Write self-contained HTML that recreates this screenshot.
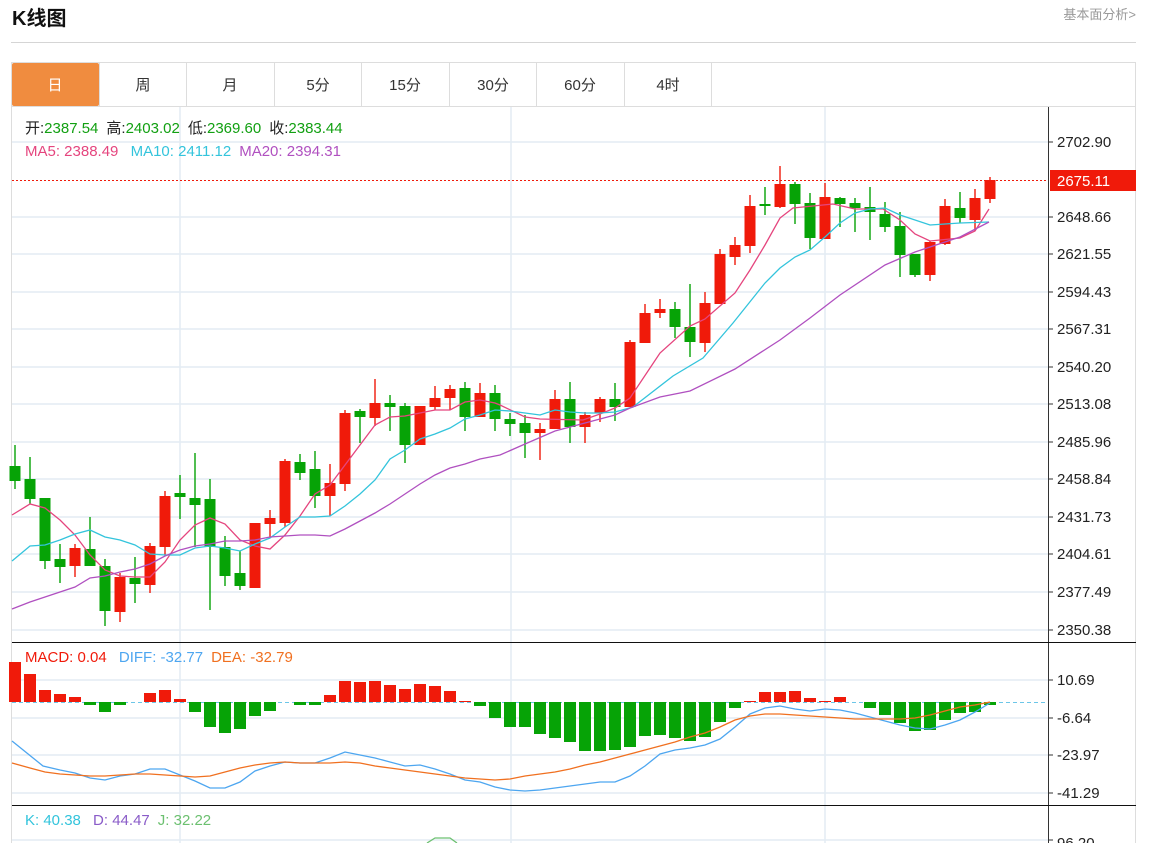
<!DOCTYPE html>
<html><head><meta charset="utf-8">
<style>
body{margin:0;background:#fff;width:1150px;height:843px;overflow:hidden;font-family:"Liberation Sans","Noto Sans CJK SC",sans-serif;}
svg{position:absolute;left:0;top:0}
svg text{font-family:"Liberation Sans","Noto Sans CJK SC",sans-serif;}
</style></head><body>
<svg id="s" width="1150" height="843" xmlns="http://www.w3.org/2000/svg">
<text x="12" y="25" font-size="20" font-weight="bold" fill="#111">K线图</text>
<text x="1136" y="19" font-size="13" fill="#999" text-anchor="end">基本面分析&gt;</text>
<line x1="11" y1="42.5" x2="1136" y2="42.5" stroke="#d5d5d5"/>
<rect x="11.5" y="62.5" width="1124" height="790" fill="none" stroke="#ddd"/>
<line x1="11" y1="106.5" x2="1136" y2="106.5" stroke="#ddd"/>
<rect x="12" y="63" width="87" height="43" fill="#f08c3f" rx="2"/>
<g font-size="15" fill="#333" text-anchor="middle">
<text x="55" y="90" fill="#fff">日</text>
<text x="143" y="90">周</text><text x="230" y="90">月</text><text x="318" y="90">5分</text>
<text x="405" y="90">15分</text><text x="493" y="90">30分</text><text x="580" y="90">60分</text><text x="668" y="90">4时</text>
</g>
<g stroke="#ddd"><line x1="99.5" y1="63" x2="99.5" y2="106"/><line x1="186.5" y1="63" x2="186.5" y2="106"/><line x1="274.5" y1="63" x2="274.5" y2="106"/><line x1="361.5" y1="63" x2="361.5" y2="106"/><line x1="449.5" y1="63" x2="449.5" y2="106"/><line x1="536.5" y1="63" x2="536.5" y2="106"/><line x1="624.5" y1="63" x2="624.5" y2="106"/><line x1="711.5" y1="63" x2="711.5" y2="106"/></g>
<g id="grid" stroke="#e3ecf3" stroke-width="1.5"></g>
<g font-size="15" fill="#222" id="ylab">
<text x="1057" y="147">2702.90</text><text x="1057" y="222">2648.66</text><text x="1057" y="259">2621.55</text><text x="1057" y="297">2594.43</text><text x="1057" y="334">2567.31</text><text x="1057" y="372">2540.20</text><text x="1057" y="409">2513.08</text><text x="1057" y="447">2485.96</text><text x="1057" y="484">2458.84</text><text x="1057" y="522">2431.73</text><text x="1057" y="559">2404.61</text><text x="1057" y="597">2377.49</text><text x="1057" y="635">2350.38</text>
<text x="1057" y="685">10.69</text><text x="1057" y="723">-6.64</text><text x="1057" y="760">-23.97</text><text x="1057" y="798">-41.29</text><text x="1057" y="848">96.20</text>
</g>
<line x1="12" y1="180.5" x2="1048" y2="180.5" stroke="#f01a0a" stroke-dasharray="2,2"/>
<rect x="1050" y="170" width="86" height="21" fill="#f01a0a"/>
<text x="1057" y="186" font-size="15" fill="#fff">2675.11</text>
<line x1="12" y1="702.5" x2="1048" y2="702.5" stroke="#6cc6e8" stroke-dasharray="4,3"/>
<g id="macd"></g>
<g id="cand"></g>
<g id="lines" fill="none" stroke-width="1.3"></g>
<line x1="1048.5" y1="107" x2="1048.5" y2="843" stroke="#333"/>
<line x1="12" y1="642.5" x2="1136" y2="642.5" stroke="#111"/>
<line x1="12" y1="805.5" x2="1136" y2="805.5" stroke="#111"/>
<g font-size="15">
<text x="25" y="133" fill="#222">开:<tspan fill="#12a012">2387.54</tspan><tspan dx="8">高:</tspan><tspan fill="#12a012">2403.02</tspan><tspan dx="8">低:</tspan><tspan fill="#12a012">2369.60</tspan><tspan dx="8">收:</tspan><tspan fill="#12a012">2383.44</tspan></text>
<text x="25" y="156" fill="#e5457e">MA5: 2388.49 <tspan fill="#33c4dc" dx="8">MA10: 2411.12</tspan><tspan fill="#b050c0" dx="8">MA20: 2394.31</tspan></text>
<text x="25" y="662" fill="#f01a0a">MACD: 0.04 <tspan fill="#4da6f0" dx="8">DIFF: -32.77</tspan><tspan fill="#f07020" dx="8">DEA: -32.79</tspan></text>
<text x="25" y="825" fill="#33c4dc">K: 40.38 <tspan fill="#8a5cc8" dx="8">D: 44.47</tspan><tspan fill="#6cc070" dx="8">J: 32.22</tspan></text>
</g>
</svg>
<script>
var NS="http://www.w3.org/2000/svg";
function el(p,t,a){var e=document.createElementNS(NS,t);for(var k in a)e.setAttribute(k,a[k]);document.getElementById(p).appendChild(e);return e;}
[142,217,254,292,329,367,404,442,479,517,554,592,630,680,718,755,793,840].forEach(function(y){el("grid","line",{x1:12,y1:y,x2:1048,y2:y});el("grid","line",{x1:1048,y1:y,x2:1053,y2:y,stroke:"#333","stroke-width":1});});
[180,511,825].forEach(function(x){el("grid","line",{x1:x,y1:107,x2:x,y2:843});});
var C=[[466,481,445,489,'g'],[479,499,457,504,'g'],[498,561,498,569,'g'],[559,567,544,583,'g'],[548,566,544,577,'r'],[549,566,517,566,'g'],[566,611,559,626,'g'],[577,612,573,622,'r'],[578,584,557,603,'g'],[546,585,543,593,'r'],[496,547,491,555,'r'],[493,497,475,519,'g'],[498,505,453,547,'g'],[499,547,479,610,'g'],[547,576,536,586,'g'],[573,586,551,590,'g'],[523,588,523,588,'r'],[518,524,510,537,'r'],[461,523,459,527,'r'],[462,473,454,480,'g'],[469,496,451,508,'g'],[483,496,464,516,'r'],[413,484,410,491,'r'],[411,417,409,443,'g'],[403,418,379,426,'r'],[403,407,395,431,'g'],[406,445,403,463,'g'],[406,445,406,445,'r'],[398,407,386,410,'r'],[389,398,385,410,'r'],[388,417,382,431,'g'],[393,417,383,417,'r'],[393,419,385,431,'g'],[419,424,413,436,'g'],
[423,433,415,458,'g'],[429,433,423,460,'r'],[399,429,390,429,'r'],[399,427,382,443,'g'],[415,427,412,443,'r'],[399,413,397,422,'r'],[399,407,383,421,'g'],[342,407,340,407,'r'],[313,343,304,343,'r'],[309,313,299,318,'r'],[309,327,302,338,'g'],[327,342,284,357,'g'],[303,343,292,352,'r'],[254,304,249,304,'r'],[245,257,237,265,'r'],[206,246,195,253,'r'],[204,206,187,215,'g'],[184,207,166,208,'r'],[184,204,182,224,'g'],[203,238,193,249,'g'],[197,239,183,239,'r'],[198,204,197,227,'g'],[203,208,198,232,'g'],[207,212,187,240,'g'],[214,227,202,232,'g'],[226,255,212,277,'g'],[254,275,254,277,'g'],[242,275,241,281,'r'],[206,244,199,245,'r'],[208,218,192,223,'g'],[198,220,189,231,'r'],[180,199,177,203,'r']];
C.forEach(function(c,i){var x=15+i*15,col=c[4]=='r'?'#f01a0a':'#06a306';
el("cand","line",{x1:x,y1:c[2],x2:x,y2:c[3],stroke:col,"stroke-width":1.4});
el("cand","rect",{x:x-5.5,y:c[0],width:11,height:Math.max(2,c[1]-c[0]),fill:col});});
var M=[662,674,690,694,697,705,712,705,702,693,690,699,712,727,733,729,716,711,702,705,705,695,681,682,681,685,689,684,686,691,701,706,718,727,727,734,738,742,751,751,750,747,736,735,738,741,737,722,708,701,692,692,691,698,701,697,702,708,715,723,731,730,720,713,712,705];
M.forEach(function(v,i){var x=15+i*15,col=v<702?'#f01a0a':'#06a306';var y=Math.min(v,702),h=Math.abs(v-702);if(h<1)return;el("macd","rect",{x:x-6,y:y,width:12,height:h,fill:col});});
function pl(pts,col){el("lines","polyline",{points:pts,stroke:col});}
pl("12,515 30,504 45,508 60,520 75,535 90,555 105,570 120,576 135,577 150,577 165,562 180,540 195,525 210,518 225,524 240,540 255,546 270,549 285,535 300,516 315,494 330,485 345,465 360,445 375,425 390,417 405,416 420,413 435,410 450,410 465,402 480,400 495,403 500,405 525,417 540,419 583,420 600,414 615,408 630,398 660,353 690,326 705,319 735,293 750,270 765,245 780,218 793,208 833,204 855,209 883,209 900,220 915,234 930,241 960,238 975,231 989,209","#e5457e");
pl("12,561 30,546 45,545 60,540 75,534 90,530 105,537 120,540 135,545 150,554 165,555 180,555 195,548 210,546 225,548 240,551 255,544 270,538 285,527 300,517 315,517 330,516 345,506 360,494 375,480 390,459 405,450 420,439 435,434 450,428 465,419 480,415 495,410 510,411 525,413 540,415 555,410 570,412 585,413 600,413 615,412 633,407 673,376 703,358 733,323 765,283 780,268 795,257 810,250 825,237 840,223 855,213 870,209 885,208 900,215 930,225 960,223 989,222","#33c4dc");
pl("12,609 30,602 45,597 60,592 75,587 90,578 105,576 120,572 135,569 150,564 165,556 180,550 195,546 210,544 225,541 240,541 255,540 270,537 285,536 300,535 315,535 330,536 345,529 360,521 375,513 390,504 405,494 420,484 435,475 450,468 465,464 480,459 495,456 500,455 525,444 555,431 585,423 615,415 630,408 660,397 690,391 735,369 780,340 810,318 840,295 885,265 915,252 960,237 989,222","#b050c0");
pl("12,741 43,766 60,770 75,773 90,778 105,780 120,776 135,774 150,769 165,769 180,775 195,781 210,788 225,788 240,782 255,771 270,766 285,762 300,763 315,763 330,758 345,752 360,755 375,758 390,762 405,766 420,765 435,769 450,774 465,780 480,782 495,787 510,790 525,791 540,790 555,788 570,786 600,782 615,782 630,776 645,766 660,754 675,750 690,748 705,745 720,739 735,727 750,714 765,708 780,706 795,709 810,711 825,709 840,710 855,713 870,717 885,721 900,725 915,728 930,729 945,725 960,720 975,712 990,703","#4da6f0");
pl("12,763 30,768 45,772 60,774 75,775 90,776 105,776 120,775 135,774 150,774 165,775 180,776 195,777 210,776 225,772 240,768 255,765 270,763 285,762 300,763 315,763 330,763 345,762 360,763 375,766 390,768 405,770 420,772 435,774 450,776 465,778 480,779 495,780 510,779 525,776 540,774 555,772 570,769 585,765 600,762 615,758 630,754 645,750 660,746 675,742 690,737 705,733 720,727 735,720 750,716 765,714 780,714 795,715 810,716 825,717 840,718 855,719 870,719 885,719 900,719 915,718 930,715 945,711 960,707 975,705 990,702","#f07020");
pl("427,843 435,838 450,838 457,843","#6cc070");
</script>
</body></html>
